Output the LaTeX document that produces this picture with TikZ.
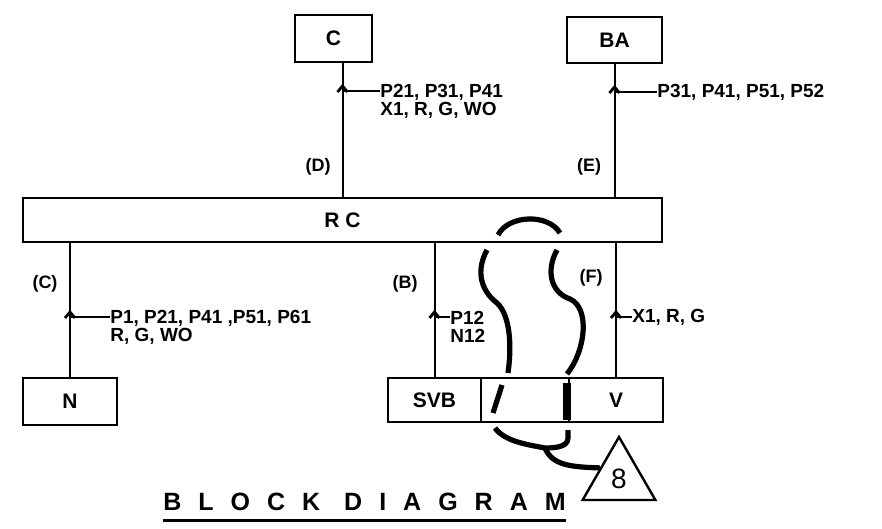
\documentclass[tikz,border=0pt]{standalone}
\usepackage{fontspec}
\setmainfont{Liberation Sans}
\usetikzlibrary{shapes.geometric,calc}
\begin{document}
\begin{tikzpicture}[x=0.5pt,y=-0.5pt,
    blk/.style={draw,line width=1.2pt,inner sep=0pt,outer sep=0pt,font=\bfseries\fontsize{10.5}{12}\selectfont},
    wire/.style={line width=1pt},
    lbl/.style={font=\bfseries\fontsize{9.5}{8.7}\selectfont,align=left,inner sep=0pt,anchor=north west},
    br/.style={font=\bfseries\fontsize{9}{10}\selectfont},
    brush/.style={line width=2.6pt}]
    \useasboundingbox (0,0) rectangle (882,529);
    \node[blk,minimum width=38.5pt,minimum height=23.5pt] (C) at (333.5,38.5) {C};
    \node[blk,minimum width=47.5pt,minimum height=23pt] (BA) at (614.5,40) {BA};
    \node[blk,minimum width=319.5pt,minimum height=22pt] (RC) at (342.5,220) {R\hspace{3pt}C};
    \node[blk,minimum width=47pt,minimum height=23.5pt] (N) at (70,401.5) {N};
    \node[blk,minimum width=46.5pt,minimum height=22pt] (SVB) at (434.5,400) {SVB};
    \node[blk,minimum width=44pt,minimum height=22pt,anchor=west] (mid) at (SVB.east) {};
    \node[blk,minimum width=47pt,minimum height=22pt,anchor=west] (V) at (mid.east) {V};
    \draw[wire] (C.south -| RC.north)--(RC.north);
    \draw[wire] (BA.south)--(BA.south |- RC.north);
    \draw[wire] (RC.south -| N.north)--(N.north);
    \draw[wire] (RC.south -| SVB.north)--(SVB.north);
    \draw[wire] (RC.south -| V.north)--(V.north);
    \coordinate (tD) at (342.5,91);
    \coordinate (tE) at (614.5,92);
    \coordinate (tC) at (70,317);
    \coordinate (tB) at (434.5,317);
    \coordinate (tF) at (616,317);
    \node[lbl] (lD) at (380,84) {P21, P31, P41\\X1, R, G, WO};
    \node[lbl,anchor=west] (lE) at (657,92) {P31, P41, P51, P52};
    \node[lbl] (lC) at (110,310) {P1, P21, P41 ,P51, P61\\R, G, WO};
    \node[lbl] (lB) at (450,311) {P12\\N12};
    \node[lbl,anchor=west] (lF) at (632,317) {X1, R, G};
\foreach \t/\l in {tD/lD,tE/lE,tC/lC,tB/lB,tF/lF}
{
    \draw[wire] (\t) -- (\t -| \l.west);
    \draw[line width=1.4pt] (\t) ++(-5,1) -- ++(5,-6) -- ++(5,6);
}
    \node[br] (bD) at (318,167) {(D)};
    \node[br] (bE) at (589,167) {(E)};
    \node[br] (bC) at (45,284) {(C)};
    \node[br] (bB) at (405,284) {(B)};
    \node[br] (bF) at (591,278) {(F)};
    \draw[brush] (498,235) .. controls (508,215) and (548,213) .. (560,233);
    \draw[brush] (487,250) .. controls (476,270) and (480,290) .. (497,303) .. controls (510,315) and (512,345) .. (508,373);
    \draw[brush] (557,250) .. controls (546,270) and (550,292) .. (570,299) .. controls (590,308) and (586,350) .. (567,374);
    \draw[brush] (502,385)--(493,413);
    \draw[brush,line width=4pt] (567,383)--(567,420);
    \draw[brush] (495,428) .. controls (505,442) and (530,445) .. (545,448);
    \draw[brush] (568,430)--(568,438) .. controls (568,447) and (555,448) .. (545,448);
    \node[draw,line width=1.2pt,regular polygon,regular polygon sides=3,minimum size=42pt,inner sep=0pt,font=\fontsize{14}{14}\selectfont] (tri) at (619,479) {8};
    \draw[brush] (545,448) .. controls (552,465) and (570,467) .. (tri.side 1);
    \node[font=\bfseries\fontsize{12.5}{14}\selectfont\addfontfeature{LetterSpace=68},inner sep=0pt,anchor=base west] (title) at (163,510) {BLOCK DIAGRAM};
    \draw[line width=1.5pt] ($(title.base west)+(0,10)$)--($(title.base east)+(0,10)$);
\end{tikzpicture}
\end{document}
